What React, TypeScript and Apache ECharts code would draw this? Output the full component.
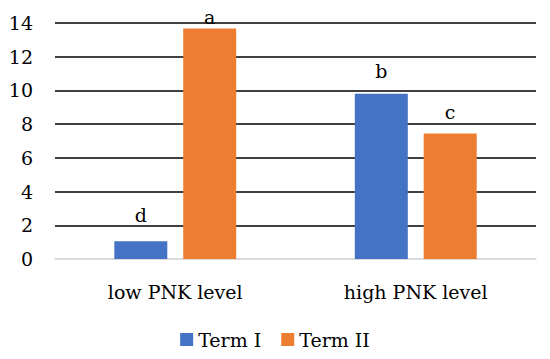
import React, { useEffect, useRef } from "react";
import * as echarts from "echarts";

const categories = ["low PNK level", "high PNK level"];
const termI = [1.05, 9.8];
const termII = [13.68, 7.45];
const labelsI = ["d", "b"];
const labelsII = ["a", "c"];

const FONT = "'DejaVu Serif', serif";
const LABEL_DIST_I = [17, 13];
const LABEL_DIST_II = [2, 12];

export default function App() {
  const ref = useRef<HTMLDivElement>(null);
  useEffect(() => {
    const chart = echarts.init(ref.current!, null, { renderer: "svg" });
    const mkData = (vals: number[], dists: number[]) =>
      vals.map((v, i) => ({ value: v, label: { distance: dists[i] } }));
    const mkLabel = (labels: string[]) => ({
      show: true,
      position: "top",
      fontFamily: FONT,
      fontSize: 19,
      color: "#000",
      formatter: (p: any) => labels[p.dataIndex],
    });
    chart.setOption({
      animation: false,
      textStyle: { fontFamily: FONT },
      grid: { left: 55, right: 14, top: 23, bottom: 100, containLabel: false },
      legend: {
        bottom: 5,
        left: "center",
        itemWidth: 13,
        itemHeight: 13,
        itemGap: 20,
        icon: "rect",
        textStyle: { fontFamily: FONT, fontSize: 19, color: "#000" },
        data: ["Term I", "Term II"],
      },
      xAxis: {
        type: "category",
        data: categories,
        axisLine: { show: true, lineStyle: { color: "#d9d9d9", width: 1.5 } },
        axisTick: { show: false },
        axisLabel: { fontFamily: FONT, fontSize: 19, color: "#000", margin: 23 },
      },
      yAxis: {
        type: "value",
        min: 0,
        max: 14,
        interval: 2,
        axisLine: { show: false },
        axisTick: { show: false },
        axisLabel: { fontFamily: FONT, fontSize: 19, color: "#000", margin: 22 },
        splitLine: {
          lineStyle: {
            color: ["#d9d9d9", "#000", "#000", "#000", "#000", "#000", "#000", "#000"],
            width: 1.5,
          },
        },
      },
      series: [
        {
          name: "Term I",
          type: "bar",
          data: mkData(termI, LABEL_DIST_I),
          barWidth: 53,
          barGap: "30%",
          itemStyle: { color: "#4472c4" },
          label: mkLabel(labelsI),
        },
        {
          name: "Term II",
          type: "bar",
          data: mkData(termII, LABEL_DIST_II),
          barWidth: 53,
          barGap: "30%",
          itemStyle: { color: "#ed7d31" },
          label: mkLabel(labelsII),
        },
      ],
    });
    return () => chart.dispose();
  }, []);
  return <div ref={ref} style={{ width: 550, height: 359, margin: -8 }} />;
}
